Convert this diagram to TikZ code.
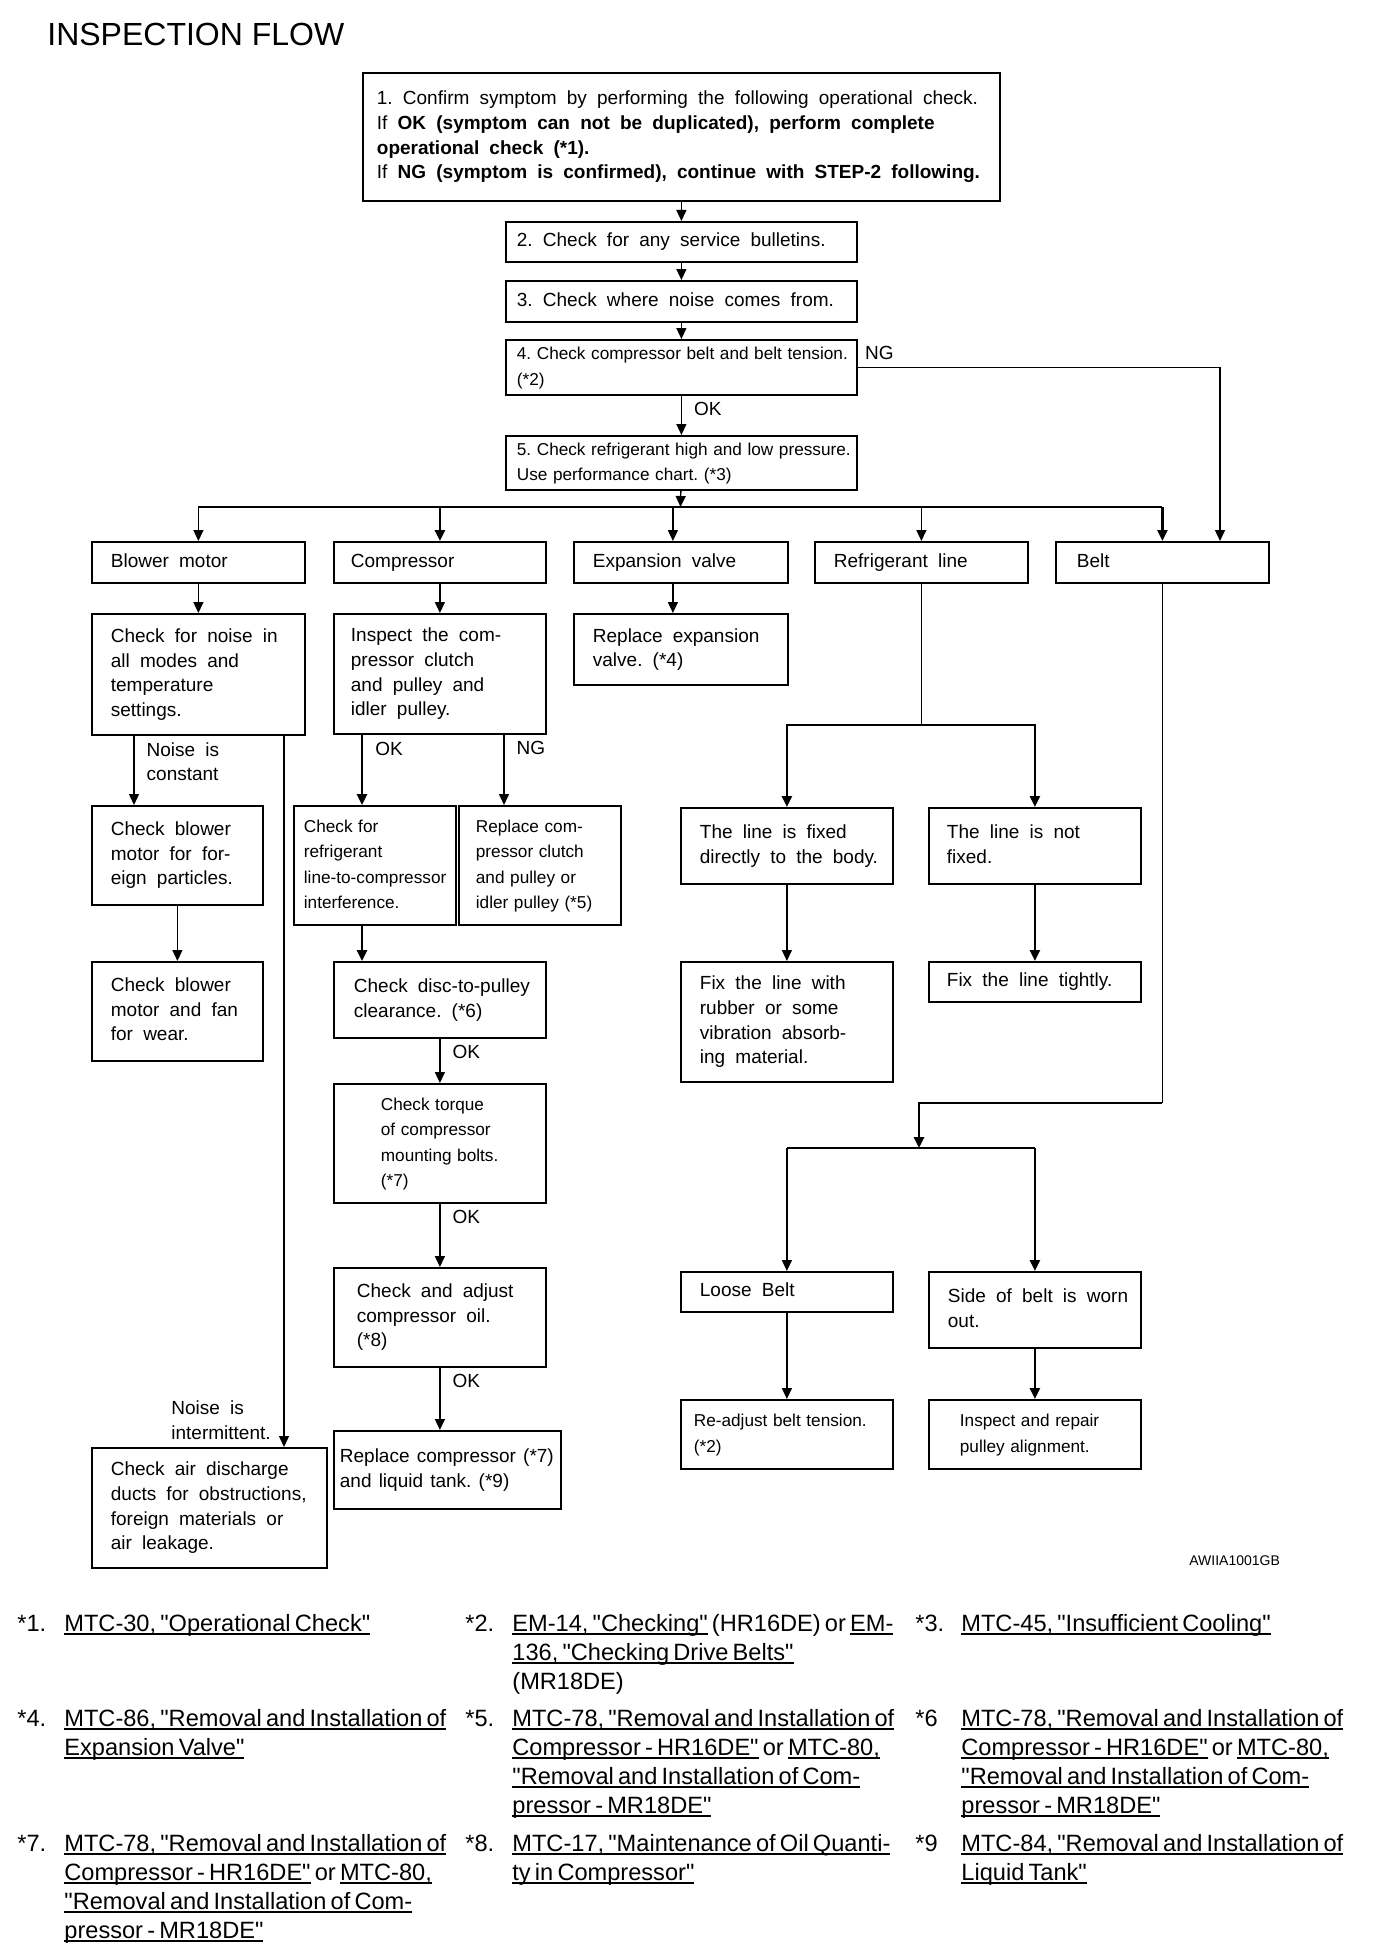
\documentclass[tikz,border=0pt]{standalone}
\usepackage{fontspec}
\setmainfont[Ligatures=TeXOff]{Liberation Sans}
\usetikzlibrary{arrows.meta}

\newskip\wordgap
\newcommand{\rows}[1]{\spaceskip=\wordgap\begin{tabular}[t]{@{}l@{}}#1\end{tabular}}
\newcommand{\lnk}[1]{\leavevmode\setbox0=\hbox{#1}\rlap{\rule[-1.8pt]{\wd0}{0.9pt}}\box0\relax}
\newcommand{\boxtxt}{\fontsize{9.5}{12.3}\selectfont\wordgap=5.1pt plus 1pt minus 1pt\spaceskip=\wordgap}
\newcommand{\smalltxt}{\fontsize{8.6}{12.8}\selectfont\wordgap=2.8pt plus 1pt minus 0.5pt\spaceskip=\wordgap}
\newcommand{\notetxt}{\fontsize{11.8}{14.5}\selectfont\wordgap=2.1pt plus 1pt minus 0.5pt\spaceskip=\wordgap}

\begin{document}
\frenchspacing
\begin{tikzpicture}[x=0.5pt, y=-0.5pt,
  box/.style n args={3}{draw, line width=0.9pt, anchor=north west, inner ysep=0pt,
    text width=#1, minimum height=#2, inner xsep=#3, align=left, font=\boxtxt},
  arr/.style={-{Triangle[length=5.5pt,width=5pt]}, line width=0.7pt},
  thk/.style={line width=1.3pt},
  lbl/.style={font=\boxtxt, anchor=north west, inner sep=3pt, xshift=3pt, align=left},
  note/.style={font=\notetxt, anchor=base west, inner sep=0pt}]
  \fill[white] (0,0) rectangle (1376,1958);
  \useasboundingbox (0,0) rectangle (1376,1958);

  \node[anchor=west, inner sep=0pt, font=\fontsize{16}{19}\selectfont] (title) at (47,34) {INSPECTION FLOW};

  % steps 1 - 5
  \node[box={304.5pt}{64pt}{7pt}] (b1) at (362,72) {\rows{1. Confirm symptom by performing the following operational check.\\
    If \textbf{OK (symptom can not be duplicated), perform complete}\\
    \textbf{operational check (*1).}\\
    If \textbf{NG (symptom is confirmed), continue with STEP-2 following.}}};
  \node[box={164.5pt}{20pt}{5.5pt}] (b2) at (505,221) {\rows{2. Check for any service bulletins.}};
  \node[box={164.5pt}{20.5pt}{5.5pt}] (b3) at (505,280) {\rows{3. Check where noise comes from.}};
  \node[box={164.5pt}{27.5pt}{5.5pt}, font=\smalltxt] (b4) at (505,339) {\rows{4. Check compressor belt and belt tension.\\(*2)}};
  \node[box={164.5pt}{27pt}{5.5pt}, font=\smalltxt] (b5) at (505,435) {\rows{5. Check refrigerant high and low pressure.\\Use performance chart. (*3)}};

  % noise sources
  \node[box={87.5pt}{20.5pt}{9.5pt}] (blower) at (91,541) {\rows{Blower motor}};
  \node[box={89pt}{20.5pt}{8.5pt}] (comp) at (333,541) {\rows{Compressor}};
  \node[box={88pt}{20.5pt}{9.5pt}] (expv) at (573,541) {\rows{Expansion valve}};
  \node[box={87.5pt}{20.5pt}{9.5pt}] (refline) at (814,541) {\rows{Refrigerant line}};
  \node[box={85.5pt}{20.5pt}{10.5pt}] (belt) at (1055,541) {\rows{Belt}};

  % blower motor
  \node[box={87.5pt}{60.5pt}{9.5pt}] (chknoise) at (91,613) {\rows{Check for noise in\\all modes and\\temperature\\settings.}};
  \node[box={66.5pt}{49.5pt}{9.5pt}] (blowerpart) at (91,805) {\rows{Check blower\\motor for for-\\eign particles.}};
  \node[box={66.5pt}{49.5pt}{9.5pt}] (blowerfan) at (91,961) {\rows{Check blower\\motor and fan\\for wear.}};
  \node[box={98.5pt}{60pt}{9.5pt}] (airduct) at (91,1447) {\rows{Check air discharge\\ducts for obstructions,\\foreign materials or\\air leakage.}};

  % compressor
  \node[box={89pt}{60pt}{8.5pt}] (inspect) at (333,613) {\rows{Inspect the com-\\pressor clutch\\and pulley and\\idler pulley.}};
  \node[box={71pt}{59.5pt}{5pt}, font=\smalltxt] (chkrefr) at (293,805) {\rows{Check for\\refrigerant\\line-to-compressor\\interference.}};
  \node[box={64pt}{59.5pt}{8.5pt}, font=\smalltxt] (replclutch) at (458,805) {\rows{Replace com-\\pressor clutch\\and pulley or\\idler pulley (*5)}};
  \node[box={86pt}{38pt}{10pt}] (chkdisc) at (333,961) {\rows{Check disc-to-pulley\\clearance. (*6)}};
  \node[box={59pt}{59.5pt}{23.5pt}, font=\smalltxt] (chktorque) at (333,1083) {\rows{Check torque\\of compressor\\mounting bolts.\\(*7)}};
  \node[box={83pt}{49.5pt}{11.5pt}] (chkoil) at (333,1267) {\rows{Check and adjust\\compressor oil.\\(*8)}};
  \node[box={107.5pt}{39pt}{3pt}, font={\boxtxt\wordgap=3.6pt}] (replcomp) at (333,1430) {\rows{Replace compressor (*7)\\and liquid tank. (*9)}};

  % expansion valve
  \node[box={88pt}{35.5pt}{9.5pt}] (replexp) at (573,613) {\rows{Replace expansion\\valve. (*4)}};

  % refrigerant line
  \node[box={87pt}{38pt}{9.5pt}] (fixed) at (680,807) {\rows{The line is fixed\\directly to the body.}};
  \node[box={88pt}{38pt}{9pt}] (notfixed) at (928,807) {\rows{The line is not\\fixed.}};
  \node[box={87pt}{60pt}{9.5pt}] (fixrubber) at (680,961) {\rows{Fix the line with\\rubber or some\\vibration absorb-\\ing material.}};
  \node[box={88pt}{20pt}{9pt}] (fixtight) at (928,961) {\rows{Fix the line tightly.}};

  % belt
  \node[box={87pt}{20pt}{9.5pt}] (loose) at (680,1271) {\rows{Loose Belt}};
  \node[box={87pt}{38pt}{9.5pt}] (side) at (928,1271) {\rows{Side of belt is worn\\out.}};
  \node[box={93pt}{34.5pt}{6.5pt}, font=\smalltxt] (readjust) at (680,1399) {\rows{Re-adjust belt tension.\\(*2)}};
  \node[box={75pt}{34.5pt}{15.5pt}, font=\smalltxt] (inspectrep) at (928,1399) {\rows{Inspect and repair\\pulley alignment.}};

  \node[anchor=west, inner sep=0pt, font=\fontsize{7}{8}\selectfont] (code) at (1189,1561) {AWIIA1001GB};

  % connectors
  \draw[arr] (b1) -- (b2);
  \draw[arr] (b2) -- (b3);
  \draw[arr] (b3) -- (b4);
  \draw[arr] (b4) -- node[lbl, pos=0] {OK} (b5);
  \coordinate (ng) at ([xshift=82.5pt]belt.north west);
  \draw[arr] (b4.east) -- node[above right, font=\boxtxt, pos=0] {NG} (b4.east -| ng) -- (ng);

  \coordinate (bus) at (680.5,507);
  \draw[arr] (b5) -- (bus);
  \draw[line width=0.9pt] (bus -| blower.north) -- (bus -| belt.north);
  \draw[arr] (bus -| blower.north) -- (blower);
  \draw[arr, thk] (bus -| comp.north) -- (comp);
  \coordinate (ev) at ([xshift=-4pt]expv.north);
  \draw[arr] (bus -| ev) -- (ev);
  \draw[arr] (bus -| refline.north) -- (refline);
  \draw[arr, thk] (bus -| belt.north) -- (belt);

  \draw[arr] (blower) -- (chknoise);
  \coordinate (nc) at ([xshift=21.5pt]chknoise.south west);
  \draw[arr] (nc) -- node[lbl, pos=0] {Noise is\\constant} (nc |- blowerpart.north);
  \draw[arr] (blowerpart) -- (blowerfan);
  \coordinate (ni) at ([xshift=96.5pt]chknoise.south west);
  \draw[arr] (ni) -- node[font=\boxtxt, pos=1, anchor=south east, align=left, xshift=-3pt] {Noise is\\intermittent.} (ni |- airduct.north);

  \draw[arr] (comp) -- (inspect);
  \coordinate (okx) at ([xshift=14.5pt]inspect.south west);
  \coordinate (ngx) at ([xshift=85.5pt]inspect.south west);
  \draw[arr, thk] (okx) -- node[lbl, pos=0] {OK} (okx |- chkrefr.north);
  \draw[arr] (ngx) -- node[lbl, pos=0] {NG} (ngx |- replclutch.north);
  \draw[arr, thk] (okx |- chkrefr.south) -- (okx |- chkdisc.north);
  \draw[arr] (chkdisc) -- node[lbl, pos=0] {OK} (chktorque);
  \draw[arr] (chktorque) -- node[lbl, pos=0] {OK} (chkoil);
  \draw[arr] (chkoil.south) -- node[lbl, pos=0] {OK} (chkoil.south |- replcomp.north);

  \draw[arr] (ev |- expv.south) -- (ev |- replexp.north);

  \coordinate (rj) at (refline.south |- 0,725);
  \draw[line width=0.7pt] (refline) -- (rj);
  \draw[arr, thk] (rj) -| (fixed);
  \draw[arr, thk] (rj) -| (notfixed);
  \draw[arr] (fixed) -- (fixrubber);
  \draw[arr, thk] (notfixed) -- (fixtight);

  \coordinate (bj) at (belt.south |- 0,1103);
  \coordinate (bk) at (919,1148);
  \draw[line width=0.7pt] (belt) -- (bj);
  \draw[arr, thk] (bj) -| (bk);
  \draw[line width=0.9pt] (loose.north |- bk) -- (side.north |- bk);
  \draw[arr] (loose.north |- bk) -- (loose);
  \draw[arr, thk] (side.north |- bk) -- (side);
  \draw[arr] (loose) -- (readjust);
  \draw[arr, thk] (side) -- (inspectrep);

  % references
  \node[note] (s1) at (17,1631) {*1.};
  \node[note] (n1) at (64,1631) {\rows{\lnk{MTC-30, "Operational Check"}}};
  \node[note] (s2) at (465,1631) {*2.};
  \node[note] (n2) at (512,1631) {\rows{\lnk{EM-14, "Checking"} (HR16DE) or \lnk{EM-}\\\lnk{136, "Checking Drive Belts"}\\(MR18DE)}};
  \node[note] (s3) at (915,1631) {*3.};
  \node[note] (n3) at (961,1631) {\rows{\lnk{MTC-45, "Insufficient Cooling"}}};

  \node[note] (s4) at (17,1726) {*4.};
  \node[note] (n4) at (64,1726) {\rows{\lnk{MTC-86, "Removal and Installation of}\\\lnk{Expansion Valve"}}};
  \node[note] (s5) at (465,1726) {*5.};
  \node[note] (n5) at (512,1726) {\rows{\lnk{MTC-78, "Removal and Installation of}\\\lnk{Compressor - HR16DE"} or \lnk{MTC-80,}\\\lnk{"Removal and Installation of Com-}\\\lnk{pressor - MR18DE"}}};
  \node[note] (s6) at (915,1726) {*6};
  \node[note] (n6) at (961,1726) {\rows{\lnk{MTC-78, "Removal and Installation of}\\\lnk{Compressor - HR16DE"} or \lnk{MTC-80,}\\\lnk{"Removal and Installation of Com-}\\\lnk{pressor - MR18DE"}}};

  \node[note] (s7) at (17,1851) {*7.};
  \node[note] (n7) at (64,1851) {\rows{\lnk{MTC-78, "Removal and Installation of}\\\lnk{Compressor - HR16DE"} or \lnk{MTC-80,}\\\lnk{"Removal and Installation of Com-}\\\lnk{pressor - MR18DE"}}};
  \node[note] (s8) at (465,1851) {*8.};
  \node[note] (n8) at (512,1851) {\rows{\lnk{MTC-17, "Maintenance of Oil Quanti-}\\\lnk{ty in Compressor"}}};
  \node[note] (s9) at (915,1851) {*9};
  \node[note] (n9) at (961,1851) {\rows{\lnk{MTC-84, "Removal and Installation of}\\\lnk{Liquid Tank"}}};
\end{tikzpicture}
\end{document}
